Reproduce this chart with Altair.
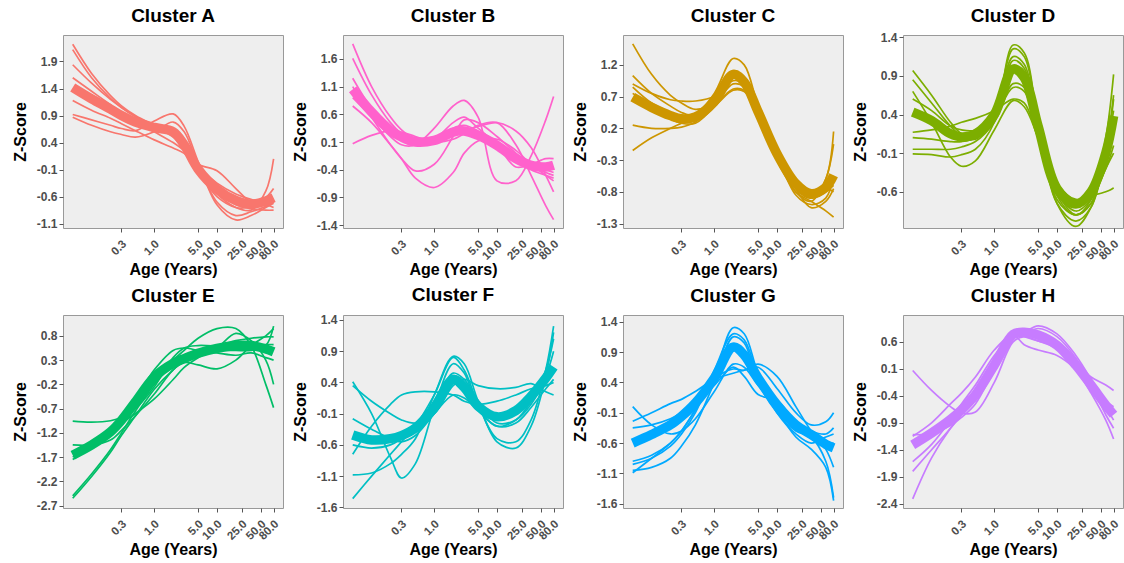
import altair as alt
import pandas as pd

AGES = [0.05, 0.1, 0.2, 0.3, 0.5, 1, 2, 3, 5, 10, 20, 35, 60, 80]
X_TICKS = [0.3, 1, 5, 10, 25, 50, 80]
CLUSTERS = ["A", "B", "C", "D", "E", "F", "G", "H"]
COLORS = ["#F8766D", "#FF61CC", "#CD9600", "#7CAE00", "#00BE67", "#00BFC4", "#00A9FF", "#C77CFF"]

Y_TICKS = {
    "A": [-1.1, -0.6, -0.1, 0.4, 0.9, 1.4, 1.9],
    "B": [-1.4, -0.9, -0.4, 0.1, 0.6, 1.1, 1.6],
    "C": [-1.3, -0.8, -0.3, 0.2, 0.7, 1.2],
    "D": [-0.6, -0.1, 0.4, 0.9, 1.4],
    "E": [-2.7, -2.2, -1.7, -1.2, -0.7, -0.2, 0.3, 0.8],
    "F": [-1.6, -1.1, -0.6, -0.1, 0.4, 0.9, 1.4],
    "G": [-1.6, -1.1, -0.6, -0.1, 0.4, 0.9, 1.4],
    "H": [-2.4, -1.9, -1.4, -0.9, -0.4, 0.1, 0.6],
}
Y_DOMAIN = {
    "A": [-1.18, 2.39], "B": [-1.45, 2.03], "C": [-1.37, 1.67], "D": [-1.07, 1.43],
    "E": [-2.75, 1.23], "F": [-1.61, 1.48], "G": [-1.67, 1.51], "H": [-2.48, 1.10],
}

# dense core trajectory of each cluster
BAND = {
    "A": [1.42, 1.21, 1.02, 0.90, 0.78, 0.68, 0.60, 0.36, -0.09, -0.46, -0.67, -0.74, -0.68, -0.62],
    "B": [1.05, 0.64, 0.31, 0.19, 0.10, 0.13, 0.28, 0.30, 0.22, 0.04, -0.20, -0.32, -0.35, -0.32],
    "C": [0.69, 0.53, 0.40, 0.35, 0.38, 0.62, 1.05, 0.93, 0.46, -0.20, -0.67, -0.83, -0.73, -0.54],
    "D": [0.43, 0.32, 0.15, 0.11, 0.15, 0.40, 0.99, 0.88, 0.25, -0.56, -0.76, -0.60, -0.10, 0.38],
    "E": [-1.66, -1.45, -1.18, -0.94, -0.56, -0.05, 0.23, 0.33, 0.44, 0.54, 0.60, 0.60, 0.53, 0.47],
    "F": [-0.44, -0.52, -0.50, -0.45, -0.33, 0.00, 0.45, 0.32, 0.02, -0.15, -0.05, 0.18, 0.47, 0.65],
    "G": [-0.60, -0.46, -0.30, -0.16, 0.06, 0.47, 0.98, 0.85, 0.47, 0.03, -0.30, -0.46, -0.62, -0.68],
    "H": [-1.31, -1.09, -0.84, -0.66, -0.38, 0.17, 0.74, 0.78, 0.73, 0.54, 0.17, -0.20, -0.57, -0.75],
}

# individual gene trajectories that stray from the core
THIN = {
    "A": [
        [2.22, 1.68, 1.27, 1.08, 0.90, 0.72, 0.55, 0.30, -0.10, -0.55, -0.80, -0.85, -0.50, 0.10],
        [2.12, 1.60, 1.22, 1.05, 0.88, 0.70, 0.50, 0.25, -0.15, -0.60, -0.80, -0.78, -0.62, -0.45],
        [1.84, 1.50, 1.20, 1.05, 0.88, 0.68, 0.55, 0.35, -0.05, -0.50, -0.75, -0.82, -0.85, -0.85],
        [0.92, 0.82, 0.72, 0.66, 0.62, 0.80, 0.93, 0.70, 0.05, -0.75, -1.03, -0.95, -0.80, -0.72],
        [0.87, 0.72, 0.60, 0.55, 0.50, 0.60, 0.78, 0.60, 0.00, -0.70, -0.95, -0.88, -0.78, -0.70],
        [1.18, 1.00, 0.85, 0.75, 0.62, 0.45, 0.30, 0.20, -0.05, -0.35, -0.55, -0.65, -0.70, -0.65],
        [1.60, 1.35, 1.10, 0.95, 0.80, 0.60, 0.40, 0.25, 0.00, -0.12, -0.45, -0.70, -0.75, -0.80],
    ],
    "B": [
        [1.87, 1.10, 0.55, 0.32, 0.15, 0.10, 0.25, 0.30, 0.25, 0.05, -0.20, -0.40, -0.50, -0.55],
        [1.61, 0.95, 0.45, 0.25, 0.10, 0.12, 0.35, 0.40, 0.30, 0.10, -0.15, -0.30, -0.40, -0.45],
        [0.07, 0.22, 0.30, 0.28, 0.20, 0.10, 0.15, 0.25, 0.40, 0.45, 0.05, -0.50, -1.05, -1.30],
        [0.75, 0.45, 0.05, -0.20, -0.55, -0.72, -0.45, -0.10, 0.12, 0.15, -0.05, -0.30, -0.50, -0.60],
        [0.90, 0.55, 0.20, 0.05, 0.05, 0.35, 0.75, 0.85, 0.55, -0.60, -0.60, -0.15, 0.50, 0.92],
        [1.10, 0.55, 0.05, -0.20, -0.42, -0.30, 0.20, 0.50, 0.45, 0.20, -0.10, -0.30, -0.45, -0.50],
        [0.95, 0.60, 0.35, 0.25, 0.18, 0.15, 0.25, 0.30, 0.38, 0.45, 0.30, 0.00, -0.50, -0.80],
        [1.25, 0.70, 0.30, 0.15, 0.05, 0.15, 0.45, 0.55, 0.35, 0.05, -0.35, -0.30, -0.20, -0.20],
    ],
    "C": [
        [1.53, 1.05, 0.72, 0.60, 0.50, 0.60, 0.90, 0.85, 0.40, -0.30, -0.80, -0.95, -1.10, -1.20],
        [1.03, 0.75, 0.55, 0.45, 0.40, 0.60, 1.10, 1.00, 0.50, -0.20, -0.75, -0.90, -0.60, 0.15],
        [-0.15, 0.05, 0.20, 0.28, 0.38, 0.55, 0.80, 0.78, 0.45, -0.15, -0.70, -0.90, -0.80, -0.70],
        [0.25, 0.20, 0.20, 0.22, 0.30, 0.55, 0.82, 0.80, 0.50, -0.10, -0.65, -0.85, -0.75, -0.80],
        [0.90, 0.75, 0.65, 0.63, 0.63, 0.70, 0.95, 0.90, 0.50, -0.20, -0.80, -0.95, -0.60, -0.05],
        [0.85, 0.60, 0.45, 0.38, 0.42, 0.75, 1.30, 1.20, 0.55, -0.20, -0.85, -1.00, -0.90, -0.55],
        [0.75, 0.55, 0.35, 0.28, 0.28, 0.55, 1.00, 0.90, 0.45, -0.25, -0.75, -1.05, -0.95, -0.75],
    ],
    "D": [
        [0.97, 0.65, 0.30, 0.15, 0.10, 0.35, 1.10, 1.00, 0.30, -0.65, -0.90, -0.70, 0.10, 0.92],
        [0.85, 0.55, 0.25, 0.12, 0.08, 0.38, 1.25, 1.15, 0.30, -0.75, -0.98, -0.80, -0.10, 0.60],
        [0.17, 0.20, 0.25, 0.30, 0.35, 0.45, 0.60, 0.55, 0.10, -0.50, -0.70, -0.65, -0.60, -0.55],
        [0.10, 0.08, 0.05, 0.05, 0.10, 0.35, 0.75, 0.70, 0.15, -0.60, -0.85, -0.70, -0.30, -0.10],
        [-0.05, -0.05, -0.05, -0.02, 0.05, 0.30, 0.80, 0.75, 0.20, -0.60, -0.90, -0.75, -0.20, 0.15],
        [-0.11, -0.12, -0.15, -0.12, -0.05, 0.30, 1.30, 1.20, 0.30, -0.75, -1.05, -0.80, -0.10, 0.45],
        [0.70, 0.30, -0.15, -0.27, -0.20, 0.20, 0.58, 0.50, 0.10, -0.50, -0.75, -0.65, -0.30, 0.00],
        [0.60, 0.45, 0.25, 0.20, 0.20, 0.45, 1.15, 1.05, 0.30, -0.70, -0.90, -0.75, -0.05, 0.65],
    ],
    "E": [
        [-2.55, -2.10, -1.60, -1.25, -0.85, -0.30, 0.10, 0.28, 0.42, 0.50, 0.55, 0.60, 0.62, 0.62],
        [-2.50, -2.05, -1.55, -1.20, -0.75, -0.20, 0.20, 0.35, 0.45, 0.50, 0.50, 0.50, 0.60, 1.00],
        [-0.96, -0.98, -0.95, -0.88, -0.70, -0.25, 0.35, 0.55, 0.60, 0.60, 0.70, 0.75, 0.78, 0.78],
        [-1.45, -1.45, -1.35, -1.15, -0.85, -0.40, 0.10, 0.25, 0.20, 0.12, 0.30, 0.60, 0.80, 0.95],
        [-1.75, -1.50, -1.20, -0.95, -0.60, -0.10, 0.30, 0.50, 0.75, 0.95, 0.95, 0.60, -0.20, -0.68],
        [-1.60, -1.40, -1.15, -1.00, -0.80, -0.50, -0.10, 0.15, 0.35, 0.55, 0.85, 0.70, 0.30, -0.20],
        [-1.70, -1.50, -1.20, -0.90, -0.50, 0.10, 0.50, 0.55, 0.50, 0.45, 0.40, 0.45, 0.35, 0.30],
    ],
    "F": [
        [-1.46, -1.10, -0.75, -0.55, -0.30, 0.20, 0.80, 0.60, 0.05, -0.50, -0.55, -0.20, 0.60, 1.30],
        [-1.08, -1.05, -0.90, -0.75, -0.50, 0.20, 0.82, 0.70, 0.10, -0.55, -0.65, -0.30, 0.50, 1.20],
        [0.41, -0.10, -0.80, -1.13, -0.90, 0.00, 0.70, 0.55, 0.00, -0.30, -0.20, 0.10, 0.60, 1.10],
        [-0.75, -0.30, 0.05, 0.20, 0.25, 0.25, 0.20, 0.10, 0.05, 0.10, 0.20, 0.30, 0.35, 0.40],
        [0.35, 0.10, -0.10, -0.20, -0.25, -0.10, 0.35, 0.45, 0.35, 0.30, 0.32, 0.38, 0.25, 0.20],
        [-0.18, -0.35, -0.50, -0.55, -0.45, -0.10, 0.20, 0.15, -0.05, -0.30, -0.25, 0.00, 0.30, 0.45],
        [-0.60, -0.65, -0.60, -0.50, -0.35, 0.05, 0.55, 0.45, 0.10, -0.25, -0.20, 0.05, 0.50, 0.90],
    ],
    "G": [
        [-1.09, -0.85, -0.60, -0.40, -0.05, 0.50, 1.30, 1.20, 0.55, -0.05, -0.50, -0.70, -1.00, -1.55],
        [-1.05, -1.00, -0.85, -0.65, -0.30, 0.40, 1.15, 1.05, 0.40, -0.10, -0.40, -0.50, -0.90, -1.50],
        [0.00, -0.30, -0.45, -0.40, -0.20, 0.25, 0.70, 0.65, 0.35, 0.05, -0.30, -0.50, -0.60, -0.60],
        [-0.24, -0.10, 0.05, 0.12, 0.25, 0.45, 0.55, 0.60, 0.65, 0.30, -0.10, -0.30, -0.25, -0.10],
        [-0.90, -0.80, -0.60, -0.40, -0.05, 0.45, 0.62, 0.60, 0.70, 0.50, 0.00, -0.40, -0.70, -1.00],
        [-0.35, -0.30, -0.20, -0.10, 0.05, 0.35, 0.65, 0.50, 0.20, 0.10, -0.25, -0.40, -0.45, -0.35],
        [-0.95, -0.85, -0.65, -0.45, -0.10, 0.60, 1.20, 1.10, 0.50, -0.10, -0.45, -0.60, -0.50, -0.45],
    ],
    "H": [
        [0.07, -0.30, -0.60, -0.72, -0.70, -0.15, 0.60, 0.70, 0.62, 0.48, 0.20, -0.05, -0.20, -0.30],
        [-2.31, -1.55, -1.00, -0.75, -0.45, 0.20, 0.75, 0.80, 0.75, 0.50, 0.10, -0.35, -0.85, -1.20],
        [-1.80, -1.40, -1.00, -0.75, -0.40, 0.25, 0.75, 0.75, 0.85, 0.70, 0.30, -0.20, -0.75, -1.00],
        [-1.62, -1.30, -0.85, -0.55, -0.20, 0.35, 0.72, 0.78, 0.90, 0.75, 0.35, -0.10, -0.60, -0.85],
        [-1.12, -1.10, -0.95, -0.80, -0.55, 0.10, 0.72, 0.55, 0.45, 0.35, 0.10, -0.20, -0.50, -0.60],
        [-1.15, -0.90, -0.55, -0.35, -0.05, 0.45, 0.75, 0.70, 0.62, 0.50, 0.20, -0.15, -0.50, -0.65],
    ],
}

FONT = "Liberation Sans"
MINUS_FIX = "replace(format(datum.value, '.1f'), '\u2212', '-')"


def panel(cid, color):
    thin_rows = []
    for i, series in enumerate(THIN[cid]):
        for a, z in zip(AGES, series):
            thin_rows.append({"age": a, "z": z, "gene": i})
    thin_df = pd.DataFrame(thin_rows)
    band_df = pd.DataFrame({"age": AGES, "z": BAND[cid]})

    x = alt.X(
        "age:Q",
        scale=alt.Scale(type="log", domain=[0.035, 113], nice=False, zero=False),
        axis=alt.Axis(values=X_TICKS, labelExpr=MINUS_FIX, labelAngle=-45,
                      labelAlign="right", labelBaseline="middle", labelOffset=3,
                      labelFontSize=11.5, title="Age (Years)", grid=False,
                      labelPadding=10, labelOverlap=False,
                      minExtent=30, maxExtent=30, titlePadding=3),
    )
    y = alt.Y(
        "z:Q",
        scale=alt.Scale(domain=Y_DOMAIN[cid], nice=False, zero=False),
        axis=alt.Axis(values=Y_TICKS[cid], labelExpr=MINUS_FIX, title="Z-Score",
                      grid=False, labelOverlap=False, labelPadding=2,
                      minExtent=28, maxExtent=28, titlePadding=7),
    )
    thin = alt.Chart(thin_df).mark_line(
        interpolate="catmull-rom", strokeWidth=1.7, color=color, clip=True
    ).encode(x=x, y=y, detail="gene:N")
    band = alt.Chart(band_df).mark_line(
        interpolate="catmull-rom", strokeWidth=9.5, color=color, clip=True
    ).encode(x=x, y=y)
    # the top tick label of D sticks out above its panel and pushes the title up
    offset = 5 if cid == "D" else 9
    return alt.layer(thin, band).properties(
        width=220, height=193,
        title=alt.TitleParams(f"Cluster {cid}", anchor="middle", offset=offset),
    )


panels = [panel(c, col) for c, col in zip(CLUSTERS, COLORS)]

chart = alt.concat(
    *panels, columns=4, spacing={"row": 87, "column": 60}, bounds="flush"
).properties(
    padding={"left": 11, "top": 6, "right": 0, "bottom": 0}
).configure(background="white").configure_view(
    fill="#EEEEEE", stroke="#999999", strokeWidth=1
).configure_axis(
    labelFont=FONT, labelFontWeight="bold", labelFontSize=12, labelColor="#4D4D4D",
    titleFont=FONT, titleFontWeight="bold", titleFontSize=16, titleColor="black",
    tickColor="#555555", tickSize=4, domain=False,
).configure_title(
    font=FONT, fontSize=19, fontWeight="bold", color="black"
)

chart.save("out.html", embed_options={"renderer": "svg", "actions": False})
